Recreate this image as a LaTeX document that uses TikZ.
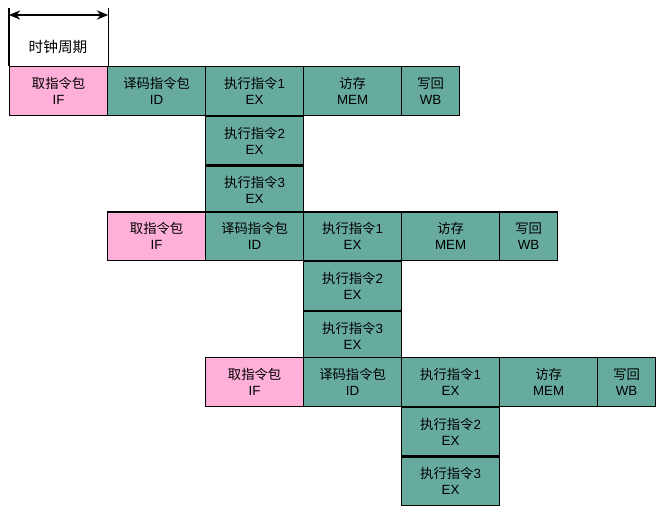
\documentclass[tikz,border=0pt]{standalone}
\usepackage{fontspec}
\setmainfont{Liberation Sans}
\newfontfamily\cjk{Noto Sans CJK SC}
\usetikzlibrary{arrows.meta}
\definecolor{ifpink}{HTML}{FFB0D9}
\definecolor{stagegreen}{HTML}{67AB9F}
\tikzset{
  stagebox/.style={draw, line width=0.9pt, fill=stagegreen, anchor=north west,
    minimum width=73.5pt, minimum height=36.4pt, inner sep=0pt, align=center,
    font=\normalsize},
  fetchbox/.style={stagebox, fill=ifpink},
  wbbox/.style={stagebox, minimum width=43.5pt},
}
\begin{document}
\begin{tikzpicture}[x=0.75pt, y=-0.75pt]
    \useasboundingbox (0, 0) rectangle (665, 516) ;
    \foreach \r/\dx/\dy in {1/0/0, 2/98/145.5, 3/196/291} {
      \begin{scope}[shift={(\dx, \dy)}]
        \node[fetchbox] (if\r) at (9, 66) {{\cjk 取指令包}\\IF} ;
        \node[stagebox] (id\r) at (107, 66) {{\cjk 译码指令包}\\ID} ;
        \node[stagebox] (exa\r) at (205, 66) {{\cjk 执行指令}1\\EX} ;
        \node[stagebox] (mem\r) at (303, 66) {{\cjk 访存}\\MEM} ;
        \node[wbbox] (wb\r) at (401, 66) {{\cjk 写回}\\WB} ;
        \node[stagebox] (exb\r) at (exa\r.south west) {{\cjk 执行指令}2\\EX} ;
        \node[stagebox] (exc\r) at (exb\r.south west) {{\cjk 执行指令}3\\EX} ;
      \end{scope}
    }
    % clock period
    \draw[line width=0.9pt] (if1.north west) -- ++ (0, -58) ;
    \draw[line width=0.9pt] (if1.north east) -- ++ (0, -58) ;
    \coordinate (cl) at ([yshift=51*0.75pt] if1.north west) ;
    \coordinate (cr) at ([yshift=51*0.75pt] if1.north east) ;
    \draw[line width=0.9pt, {Stealth[length=8.5pt, width=7pt]}-{Stealth[length=8.5pt, width=7pt]}] (cl) -- (cr) ;
    \node[font=\cjk\fontsize{11pt}{13pt}\selectfont] (clk) at (58, 47) {时钟周期} ;
  \end{tikzpicture}
\end{document}
